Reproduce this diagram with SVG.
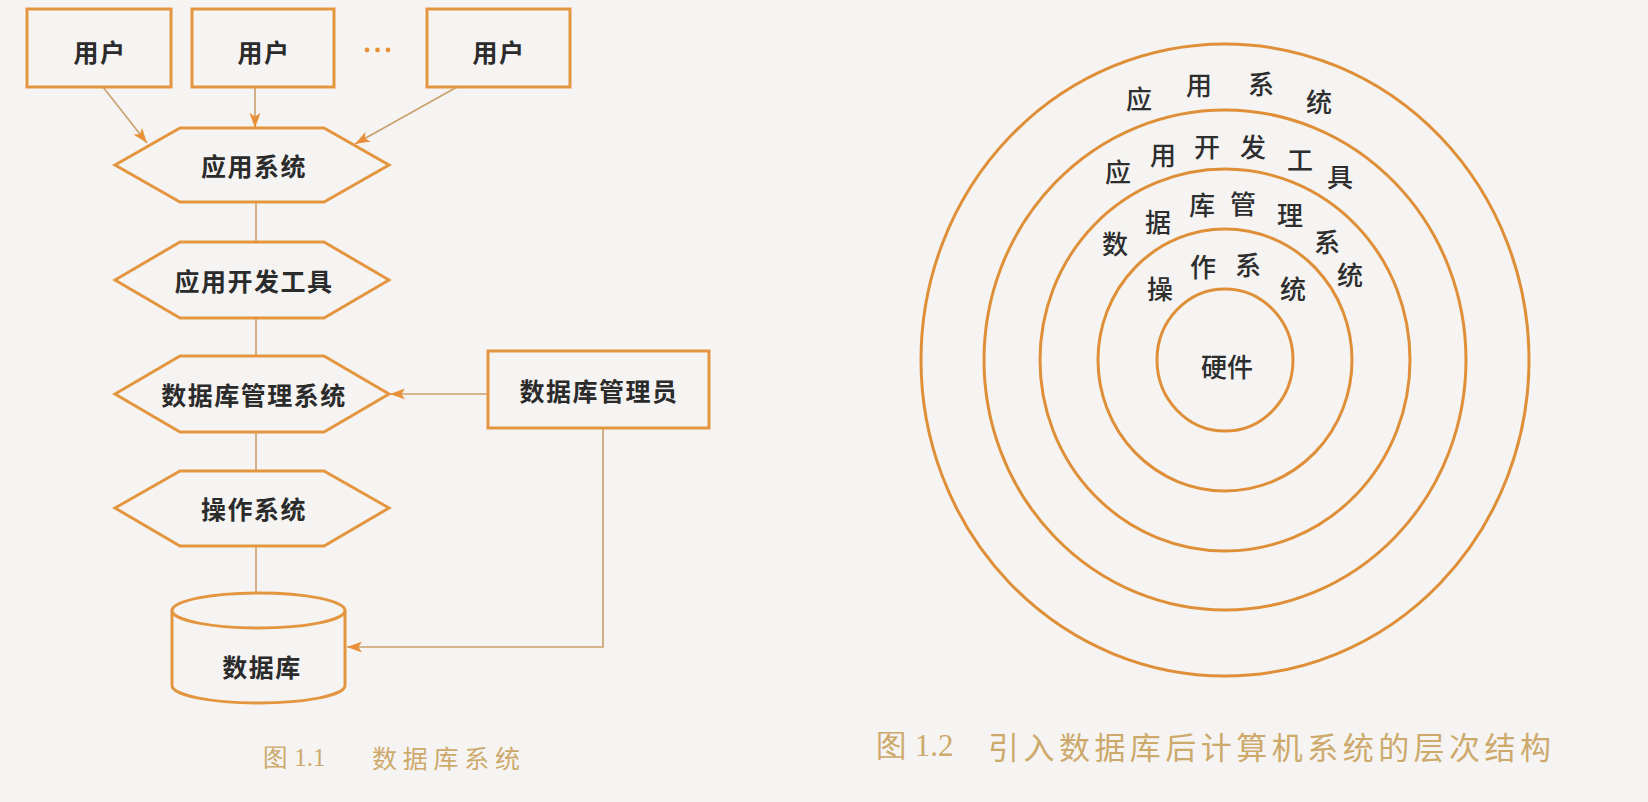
<svg xmlns="http://www.w3.org/2000/svg" width="1648" height="802" viewBox="0 0 1648 802">
<defs>
<style>
.shape{fill:none;stroke:#E3963F;stroke-width:3;}
.ring{fill:none;stroke:#DF8F38;stroke-width:3;}
.conn{fill:none;stroke:#C9A06E;stroke-width:1.6;}
.nt{font-family:"Noto Sans CJK SC","Noto Sans CJK JP",sans-serif;font-weight:700;font-size:25px;letter-spacing:1.5px;fill:#2b2b2b;text-anchor:middle;dominant-baseline:central;}
.rt{font-family:"Noto Sans CJK SC","Noto Sans CJK JP",sans-serif;font-weight:500;font-size:26px;fill:#2e2e2e;text-anchor:middle;dominant-baseline:central;}
.cap{fill:#CDA96C;dominant-baseline:central;}
.capn{font-family:"Liberation Serif",serif;}
.capc{font-family:"Noto Sans CJK SC","Noto Sans CJK JP",sans-serif;}
</style>
<marker id="ah" markerUnits="userSpaceOnUse" markerWidth="18" markerHeight="12" refX="15" refY="5.5" orient="auto">
<path d="M0,0 L15,5.5 L0,11 L3.5,5.5 z" fill="#E8913A"/>
</marker>
</defs>
<rect width="1648" height="802" fill="#F5F4F2"/>

<g id="connectors">
<line class="conn" x1="103" y1="87" x2="147" y2="143" marker-end="url(#ah)"/>
<line class="conn" x1="255" y1="87" x2="255" y2="128" marker-end="url(#ah)"/>
<line class="conn" x1="457" y1="87" x2="355" y2="144" marker-end="url(#ah)"/>
<line class="conn" x1="256" y1="202" x2="256" y2="242"/>
<line class="conn" x1="256" y1="318" x2="256" y2="356"/>
<line class="conn" x1="256" y1="432" x2="256" y2="471"/>
<line class="conn" x1="256" y1="546" x2="256" y2="593"/>
<line class="conn" x1="488" y1="394" x2="390" y2="394" marker-end="url(#ah)"/>
<path class="conn" d="M603,428 V647 H347" marker-end="url(#ah)"/>
</g>

<g id="user1"><rect class="shape" x="27" y="9" width="144" height="78"/><text class="nt" x="100" y="51">用户</text></g>
<g id="user2"><rect class="shape" x="192" y="9" width="142" height="78"/><text class="nt" x="264" y="51">用户</text></g>
<g id="ellipsis" fill="#E8913A"><circle cx="367" cy="50" r="2.4"/><circle cx="377.5" cy="50" r="2.4"/><circle cx="388" cy="50" r="2.4"/></g>
<g id="user3"><rect class="shape" x="427" y="9" width="143" height="78"/><text class="nt" x="499" y="51">用户</text></g>

<g id="app"><polygon class="shape" points="115,165 180,128 324,128 389,165 324,202 180,202"/><text class="nt" x="254" y="165">应用系统</text></g>
<g id="devtools"><polygon class="shape" points="115,280 180,242 324,242 389,280 324,318 180,318"/><text class="nt" x="254" y="280">应用开发工具</text></g>
<g id="dbms"><polygon class="shape" points="115,394 180,356 324,356 389,394 324,432 180,432"/><text class="nt" x="254" y="394">数据库管理系统</text></g>
<g id="os"><polygon class="shape" points="115,508 180,471 324,471 389,508 324,546 180,546"/><text class="nt" x="254" y="508">操作系统</text></g>
<g id="dba"><rect class="shape" x="488" y="351" width="221" height="77"/><text class="nt" x="599" y="390">数据库管理员</text></g>
<g id="db">
<ellipse class="shape" cx="258.5" cy="610.5" rx="86.5" ry="17.5"/>
<path class="shape" d="M172,610.5 V685.5 A86.5,17.5 0 0 0 345,685.5 V610.5"/>
<text class="nt" x="262" y="666">数据库</text>
</g>
<g id="caption1"><text class="cap capn" x="263" y="757" font-size="25">图 1.1</text><text class="cap capc" x="372" y="757" font-size="25" textLength="148" lengthAdjust="spacing">数据库系统</text></g>

<g id="rings">
<ellipse class="ring" cx="1225" cy="360" rx="304" ry="316"/>
<ellipse class="ring" cx="1225" cy="360" rx="241" ry="250"/>
<ellipse class="ring" cx="1225" cy="360" rx="185" ry="191"/>
<ellipse class="ring" cx="1225" cy="360" rx="127" ry="131"/>
<ellipse class="ring" cx="1225" cy="360" rx="68" ry="71"/>
</g>
<g id="ring-app">
<text class="rt" x="1139" y="97">应</text><text class="rt" x="1199" y="83">用</text><text class="rt" x="1261" y="82">系</text><text class="rt" x="1319" y="100">统</text>
</g>
<g id="ring-dev">
<text class="rt" x="1118" y="170">应</text><text class="rt" x="1163" y="153">用</text><text class="rt" x="1207" y="145">开</text><text class="rt" x="1253" y="145">发</text><text class="rt" x="1300" y="158">工</text><text class="rt" x="1340" y="175">具</text>
</g>
<g id="ring-dbms">
<text class="rt" x="1115" y="242">数</text><text class="rt" x="1158" y="220">据</text><text class="rt" x="1202" y="203">库</text><text class="rt" x="1243" y="202">管</text><text class="rt" x="1290" y="213">理</text><text class="rt" x="1327" y="240">系</text><text class="rt" x="1350" y="273">统</text>
</g>
<g id="ring-os">
<text class="rt" x="1160" y="287">操</text><text class="rt" x="1203" y="265">作</text><text class="rt" x="1248" y="263">系</text><text class="rt" x="1293" y="287">统</text>
</g>
<g id="hardware"><text class="rt" x="1227" y="365">硬件</text></g>
<g id="caption2"><text class="cap capn" x="876" y="745" font-size="31">图 1.2</text><text class="cap capc" x="988" y="745" font-size="31" textLength="563" lengthAdjust="spacing">引入数据库后计算机系统的层次结构</text></g>
</svg>
